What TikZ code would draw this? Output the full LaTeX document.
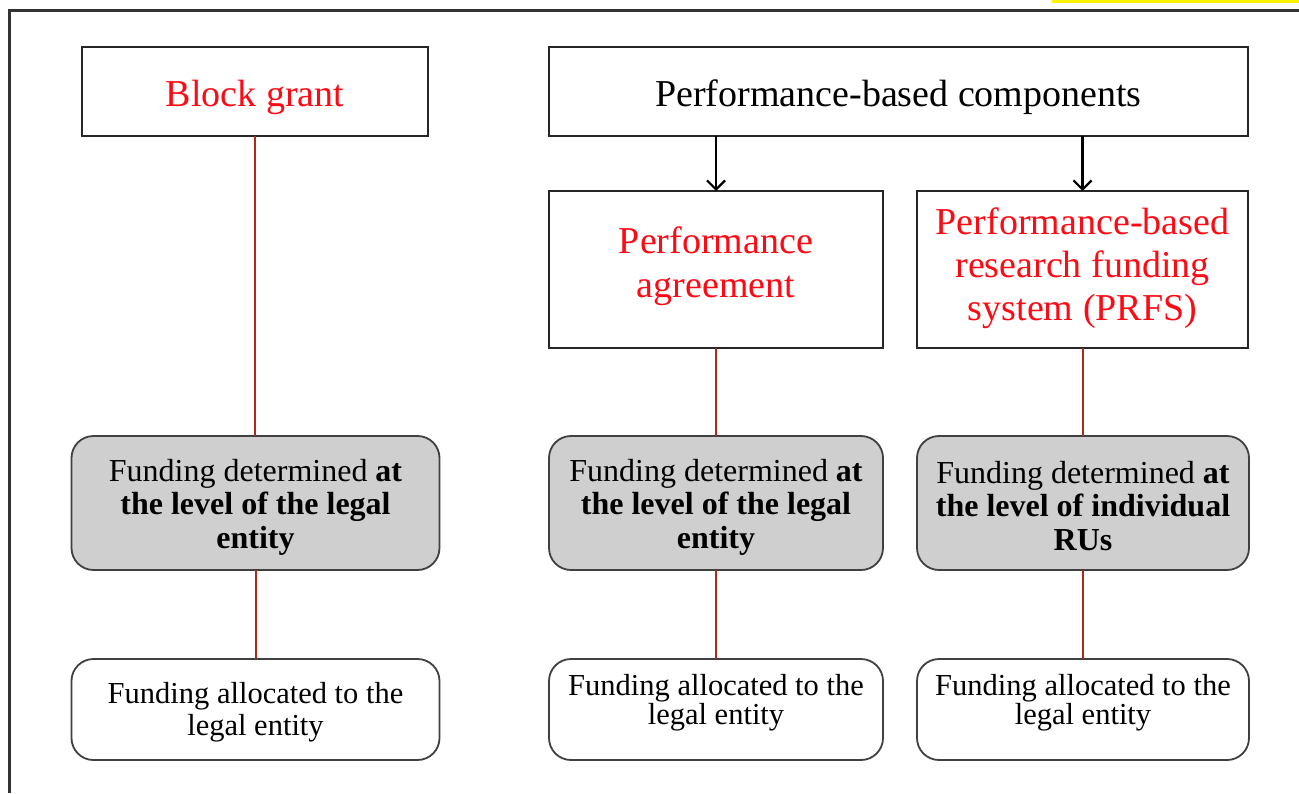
\documentclass[tikz,border=0pt]{standalone}
\usepackage{fontspec}
\setmainfont{Liberation Serif}
\usetikzlibrary{arrows.meta}
\definecolor{linkred}{RGB}{175,40,30}
\definecolor{boxgray}{RGB}{207,207,207}
\definecolor{titlered}{RGB}{255,10,20}
\begin{document}
\begin{tikzpicture}[x=1pt,y=-1pt,
  titlebox/.style={draw=black!85,line width=2.2pt,fill=white,rectangle,inner sep=0pt,outer sep=0pt},
  graybox/.style={draw=black!75,line width=1.8pt,fill=boxgray,rounded corners=22pt,inner sep=0pt,outer sep=0pt},
  whitebox/.style={draw=black!75,line width=1.8pt,fill=white,rounded corners=22pt,inner sep=0pt,outer sep=0pt},
  boxtext/.style={align=center,inner sep=0pt},
  titletext/.style={boxtext,text=titlered,font=\fontsize{38}{44}\selectfont},
  graytext/.style={boxtext,font=\fontsize{32}{33.5}\selectfont},
  link/.style={draw=linkred,line width=2pt},
  arr/.style={draw=black,line width=2.2pt,-{Straight Barb[length=9pt,width=18pt,line width=2.2pt]}}]
\useasboundingbox (0,0) rectangle (1299,793);
\fill[white] (0,0) rectangle (1299,793);
\fill[yellow] (1052,0) rectangle (1299,2.5);
\draw[black!80,line width=2.2pt] (9.5,793) -- (9.5,10.5) -- (1299,10.5);
% top row
\node[titlebox,minimum width=346pt,minimum height=89pt] (bg) at (255,91.5) {};
\node[titlebox,minimum width=699pt,minimum height=89pt] (pbc) at (898.5,91.5) {};
\node[titletext] (bgt) at (255,97) {Block grant};
\node[titletext,text=black] (pbct) at (898.5,97) {Performance-based components};
% second row
\node[titlebox,minimum width=334pt,minimum height=157pt] (pa) at (716,269.5) {};
\node[titlebox,minimum width=331pt,minimum height=157pt] (prfs) at (1082.5,269.5) {};
\node[titletext] (pat) at (716,266) {Performance\\agreement};
\node[titletext,font=\fontsize{38}{43}\selectfont] (prfst) at (1082.5,268) {Performance-based\\research funding\\system (PRFS)};
% gray boxes
\node[graybox,minimum width=368pt,minimum height=134pt] (g1) at (255.5,503) {};
\node[graybox,minimum width=334pt,minimum height=134pt] (g2) at (716,503) {};
\node[graybox,minimum width=332pt,minimum height=134pt] (g3) at (1083,503) {};
\node[graytext] (g1t) at (255.5,507) {Funding determined \textbf{at}\\\textbf{the level of the legal}\\\textbf{entity}};
\node[graytext] (g2t) at (716,507) {Funding determined \textbf{at}\\\textbf{the level of the legal}\\\textbf{entity}};
\node[graytext] (g3t) at (1083,506) {Funding determined \textbf{at}\\\textbf{the level of individual}\\\textbf{RUs}};
% white boxes
\node[whitebox,minimum width=368pt,minimum height=101pt] (w1) at (255.5,709.5) {};
\node[whitebox,minimum width=334pt,minimum height=101pt] (w2) at (716,709.5) {};
\node[whitebox,minimum width=332pt,minimum height=101pt] (w3) at (1083,709.5) {};
\node[boxtext,font=\fontsize{30.5}{32}\selectfont] (w1t) at (255.5,712) {Funding allocated to the\\legal entity};
\node[boxtext,font=\fontsize{30.5}{29.5}\selectfont] (w2t) at (716,702.5) {Funding allocated to the\\legal entity};
\node[boxtext,font=\fontsize{30.5}{29.5}\selectfont] (w3t) at (1083,702.5) {Funding allocated to the\\legal entity};
% arrows
\draw[arr] (pa.north |- pbc.south) -- (pa.north);
\draw[arr] (prfs.north |- pbc.south) -- (prfs.north);
% links
\draw[link] (bg.south) -- (bg.south |- g1.north);
\draw[link] (g1.south) -- (w1.north);
\draw[link] (pa.south) -- (g2.north);
\draw[link] (g2.south) -- (w2.north);
\draw[link] (prfs.south) -- (prfs.south |- g3.north);
\draw[link] (g3.south) -- (w3.north);
\end{tikzpicture}
\end{document}
